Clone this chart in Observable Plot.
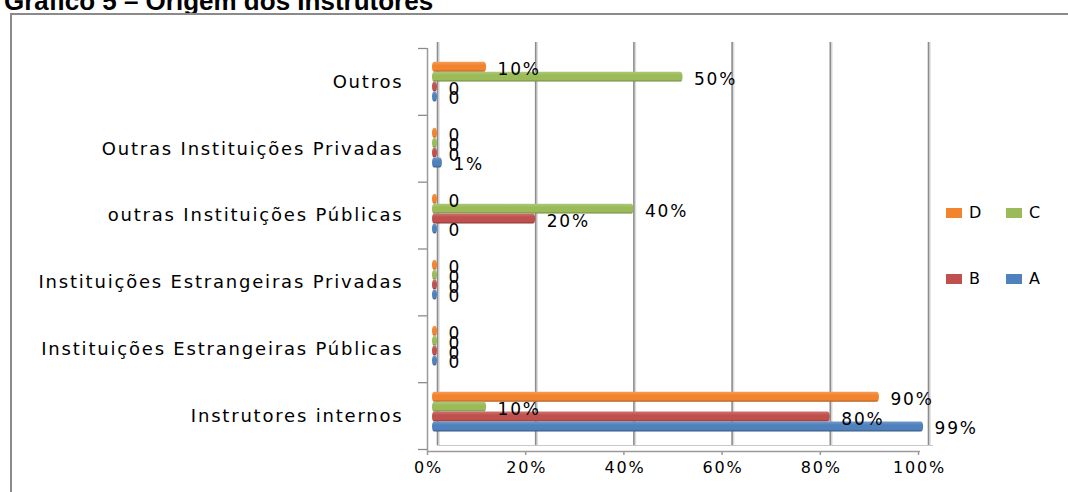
<!DOCTYPE html>
<html><head><meta charset="utf-8">
<script src="https://cdn.jsdelivr.net/npm/d3@7"></script>
<script src="https://cdn.jsdelivr.net/npm/@observablehq/plot@0.6"></script>
<style>
body{margin:0;background:#fff;}
#wrap{position:relative;width:1068px;height:492px;overflow:hidden;font-family:"DejaVu Sans",sans-serif;background:#fff;}
#wrap svg{position:absolute;left:0;top:0;}
#wrap svg text{font-family:"DejaVu Sans",sans-serif;letter-spacing:1.8px;}
#title{position:absolute;left:4px;top:-12px;font:bold 26px/26px "Liberation Sans",Arial,sans-serif;white-space:nowrap;color:#000;}
#frame{position:absolute;left:10px;top:13px;width:1200px;height:600px;border-left:2px solid #8a8a8a;border-top:2px solid #8a8a8a;}
.lg{position:absolute;font-size:16px;letter-spacing:1.8px;line-height:16px;color:#000;}
.sw{position:absolute;width:16px;height:10px;}
</style></head><body>
<div id="wrap">
  <div id="title">Gráfico 5 – Origem dos Instrutores</div>
  <div id="frame"></div>
</div>
<script>
const categories = ["Outros","Outras Instituições Privadas","outras Instituições Públicas","Instituições Estrangeiras Privadas","Instituições Estrangeiras Públicas","Instrutores internos"];
const series = ["D","C","B","A"];
const valuesA = [0, 0.01, 0, 0, 0, 0.99];
const valuesB = [0, 0, 0.20, 0, 0, 0.80];
const valuesC = [0.50, 0, 0.40, 0, 0, 0.10];
const valuesD = [0.10, 0, 0, 0, 0, 0.90];
const xTicks = [0, 0.2, 0.4, 0.6, 0.8, 1];
const xTickLabels = ["0%","20%","40%","60%","80%","100%"];
const colors = {A:"#4F81BD", B:"#C0504D", C:"#9BBB59", D:"#F3842F"};
const legendOrder = [["D","C"],["B","A"]];

const valuesBySeries = {A: valuesA, B: valuesB, C: valuesC, D: valuesD};
const rows = [];
categories.forEach((c, i) => series.forEach(s => rows.push({category: c, series: s, value: valuesBySeries[s][i]})));
const fmt = v => v === 0 ? "0" : Math.round(v * 100) + "%";

const W = 1068, H = 492;
const M = {left: 432, right: 145, top: 48, bottom: 43};
const wrap = document.getElementById("wrap");

// Background layer: walls, grid, axes
const grid = Plot.plot({
  width: W, height: H,
  marginLeft: M.left, marginRight: M.right, marginTop: M.top, marginBottom: M.bottom,
  x: {domain: [0, 1], axis: null},
  y: {domain: [0, categories.length], reverse: true, axis: null},
  marks: [
    Plot.ruleX(xTicks, {x: d => d, dx: 6.5, insetTop: -6, insetBottom: 4, stroke: "#dcdcdc", strokeWidth: 1.5}),
    Plot.ruleX(xTicks, {x: d => d, dx: 5, insetTop: -6, insetBottom: 4, stroke: "#8c8c8c", strokeWidth: 1.6}),
    Plot.ruleX([0], {x: d => d, dx: -5, insetBottom: -2, stroke: "#9a9a9a", strokeWidth: 1.5}),
    Plot.ruleY([categories.length], {y: d => d, dy: 2, insetLeft: -5, insetRight: 3, stroke: "#9a9a9a", strokeWidth: 1.5}),
    Plot.ruleY([categories.length], {y: d => d, dy: -4, insetLeft: 5, insetRight: -10, stroke: "#c8c8c8", strokeWidth: 1.2}),
    Plot.ruleX(xTicks, {x: d => d, y1: categories.length, y2: categories.length, dx: -5, dy: 2, insetBottom: -4, stroke: "#9a9a9a", strokeWidth: 1.5}),
    Plot.ruleY(d3.range(categories.length + 1), {y: d => d, insetLeft: -14, insetRight: 496, stroke: "#8c8c8c", strokeWidth: 1.3}),
    Plot.text(categories, {y: (d, i) => i + 0.5, frameAnchor: "left", dx: -29, textAnchor: "end", text: d => d, fontSize: 18, fill: "#000"}),
    Plot.text(xTicks, {x: d => d, frameAnchor: "bottom", dy: 23, dx: -4, text: (d, i) => xTickLabels[i], fontSize: 16, fill: "#000"})
  ]
});
wrap.appendChild(grid);

// Bars layer
const bars = Plot.plot({
  width: W, height: H,
  marginLeft: M.left, marginRight: M.right, marginTop: M.top, marginBottom: M.bottom,
  facet: {data: rows, y: "category"},
  fy: {domain: categories, padding: 0, axis: null},
  y: {domain: series, paddingInner: 0, paddingOuter: 1.34, align: 0.41, round: false, axis: null},
  x: {domain: [0, 1], axis: null},
  color: {type: "ordinal", domain: series, range: series.map(s => `url(#grad${s})`)},
  marks: [
    Plot.barX(rows, {x1: 0, x2: "value", y: "series", fill: "series", insetRight: -5, rx: 2.5, ry: 5}),
    Plot.text(rows, {x: "value", y: "series", text: d => fmt(d.value), dx: 16, dy: 2, textAnchor: "start", fontSize: 17, fill: "#000"})
  ]
});
bars.style.background = "transparent";
const ns = "http://www.w3.org/2000/svg";
const defs = document.createElementNS(ns, "defs");
for (const s of series) {
  const base = d3.color(colors[s]);
  const g = document.createElementNS(ns, "linearGradient");
  g.setAttribute("id", "grad" + s);
  g.setAttribute("x1", "0"); g.setAttribute("y1", "0"); g.setAttribute("x2", "0"); g.setAttribute("y2", "1");
  const stops = [[0, d3.interpolateRgb(base, "#fff")(0.2)], [0.35, base.formatHex()], [0.8, base.formatHex()], [1, d3.interpolateRgb(base, "#000")(0.3)]];
  for (const [o, c] of stops) {
    const st = document.createElementNS(ns, "stop");
    st.setAttribute("offset", o);
    st.setAttribute("stop-color", c);
    g.appendChild(st);
  }
  defs.appendChild(g);
}
bars.insertBefore(defs, bars.firstChild);
wrap.appendChild(bars);

// Legend
const legendPos = {cols: [946, 1006], rows: [208, 274]};
legendOrder.forEach((row, r) => row.forEach((s, c) => {
  const sw = document.createElement("div");
  sw.className = "sw";
  sw.style.left = legendPos.cols[c] + "px";
  sw.style.top = legendPos.rows[r] + "px";
  sw.style.background = colors[s];
  wrap.appendChild(sw);
  const t = document.createElement("div");
  t.className = "lg";
  t.textContent = s;
  t.style.left = (legendPos.cols[c] + 23) + "px";
  t.style.top = (legendPos.rows[r] - 3) + "px";
  wrap.appendChild(t);
}));
</script>
</body></html>
